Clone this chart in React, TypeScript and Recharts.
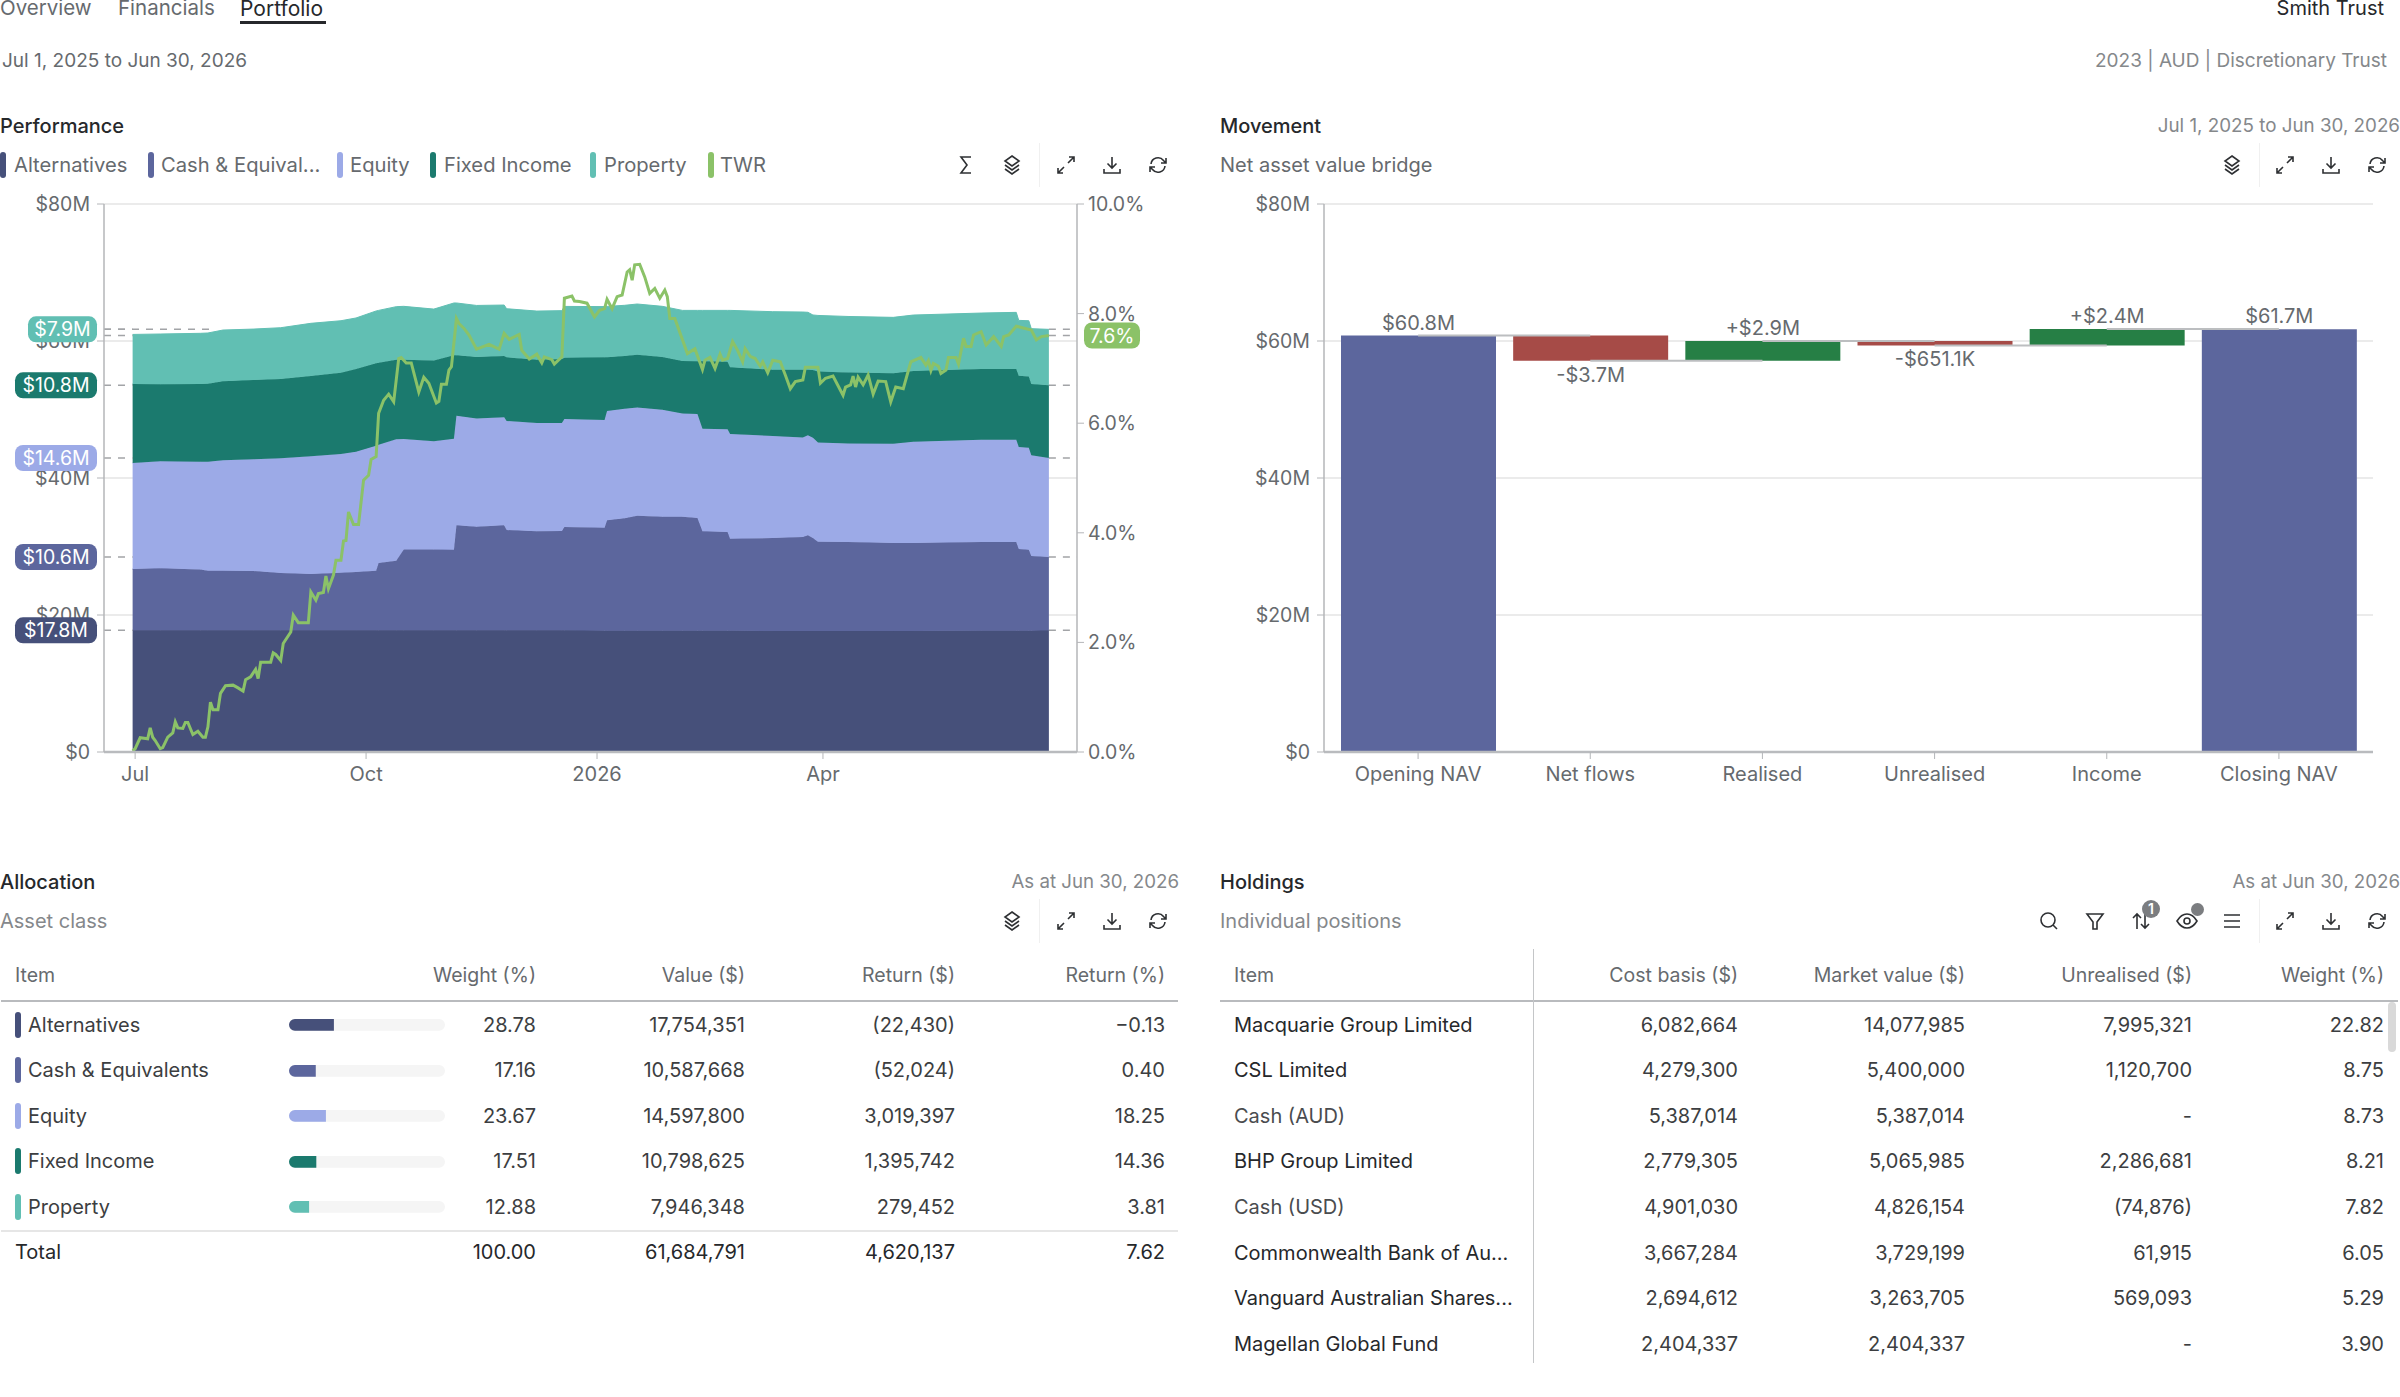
import React from "react";
import {
  Area,
  Bar,
  BarChart,
  CartesianGrid,
  Cell,
  ComposedChart,
  LabelList,
  Line,
  ReferenceLine,
  XAxis,
  YAxis,
} from "recharts";

const FONT = "Inter, 'Noto Sans', sans-serif";
const GREY = "#666a6e";
const DARK = "#26282b";
const AXIS = "#b4b6b9";
const GRID = "#ebebeb";

// performance chart, day 0 = Jul 1 2025, values in $M
const navDays = [-1, 10, 26, 29, 35, 47, 58, 70, 82, 88, 96, 97, 104, 107, 119, 127, 128, 136, 147, 148, 160, 170, 171, 187, 188, 195, 200, 210, 218, 224, 226, 236, 237, 254, 266, 268, 270, 272, 284, 302, 310, 337, 351, 352, 356, 357, 364];
const alternatives = [17.76, 17.76, 17.76, 17.76, 17.76, 17.76, 17.76, 17.76, 17.76, 17.76, 17.76, 17.76, 17.76, 17.76, 17.76, 17.76, 17.76, 17.76, 17.76, 17.76, 17.76, 17.76, 17.76, 17.71, 17.71, 17.71, 17.71, 17.71, 17.71, 17.71, 17.71, 17.71, 17.71, 17.66, 17.66, 17.66, 17.66, 17.66, 17.66, 17.66, 17.66, 17.71, 17.71, 17.71, 17.71, 17.71, 17.76];
const cash = [8.95, 9.05, 8.9, 8.71, 8.71, 8.66, 8.37, 8.22, 8.42, 8.52, 8.71, 9.83, 10.17, 11.82, 11.82, 11.78, 15.33, 15.13, 15.33, 14.65, 14.45, 14.5, 15.08, 15.04, 16.11, 16.4, 16.79, 16.64, 16.64, 16.45, 14.5, 14.4, 13.43, 13.58, 13.72, 13.97, 13.58, 13.04, 12.99, 12.85, 12.85, 12.94, 12.94, 11.92, 11.82, 10.9, 10.71];
const equity = [15.47, 15.62, 15.72, 15.91, 16.11, 16.3, 16.74, 17.18, 17.32, 17.57, 18.25, 17.27, 17.71, 16.11, 15.77, 16.2, 16.01, 15.81, 15.77, 15.91, 15.81, 15.77, 15.77, 15.72, 15.96, 16.01, 15.81, 15.62, 15.08, 15.18, 14.99, 14.99, 15.28, 14.89, 14.55, 14.6, 14.65, 14.5, 14.4, 14.5, 14.79, 14.94, 14.94, 14.89, 14.89, 14.7, 14.45];
const fixedIncome = [11.53, 11.24, 11.34, 11.39, 11.53, 11.58, 11.58, 11.73, 11.87, 12.07, 12.02, 11.97, 11.63, 11.58, 11.82, 12.17, 8.81, 8.95, 8.95, 9.29, 9.25, 9.34, 8.95, 9.15, 7.83, 7.69, 7.69, 7.69, 7.64, 7.69, 9.83, 9.88, 9.73, 9.68, 9.88, 9.59, 9.88, 10.36, 10.36, 10.27, 10.32, 10.32, 10.32, 10.41, 10.41, 10.41, 10.61];
const property = [7.25, 7.35, 7.4, 7.4, 7.49, 7.44, 7.49, 7.69, 7.59, 7.44, 7.64, 7.64, 7.74, 7.79, 7.49, 7.64, 7.64, 7.54, 7.44, 7.1, 7.1, 7.06, 7.49, 7.4, 7.44, 7.4, 7.4, 7.4, 7.4, 7.44, 7.44, 7.49, 8.32, 8.47, 8.42, 8.37, 8.03, 8.17, 8.17, 8.17, 8.17, 8.17, 8.27, 8.08, 8.13, 8.08, 8.17];

const twrDays = [-1, 0, 2, 5, 6, 7, 8, 10, 11, 13, 15, 16, 17, 19, 20, 21, 23, 25, 27, 28, 29, 30, 31, 33, 34, 36, 39, 41, 43, 44, 46, 48, 49, 50, 54, 55, 56, 58, 59, 62, 63, 65, 69, 70, 72, 73, 75, 76, 77, 79, 80, 82, 83, 84, 85, 87, 89, 91, 93, 94, 96, 97, 99, 101, 103, 105, 106, 108, 110, 113, 115, 117, 120, 121, 122, 124, 125, 126, 128, 129, 131, 133, 136, 141, 145, 147, 149, 153, 154, 157, 160, 162, 163, 166, 167, 170, 171, 174, 175, 177, 180, 183, 185, 187, 188, 190, 192, 194, 196, 197, 198, 199, 201, 203, 205, 207, 209, 211, 212, 213, 215, 220, 223, 226, 227, 229, 231, 233, 234, 236, 238, 240, 242, 243, 245, 247, 249, 250, 252, 254, 257, 259, 261, 263, 266, 267, 272, 273, 275, 278, 282, 283, 285, 286, 287, 288, 290, 292, 294, 296, 299, 301, 303, 306, 309, 313, 315, 316, 317, 318, 320, 321, 323, 324, 327, 328, 330, 331, 333, 334, 337, 339, 342, 345, 346, 348, 351, 357, 359, 361, 364];
const twrValues = [0.02, 0.06, 0.26, 0.24, 0.44, 0.27, 0.21, 0.06, 0.08, 0.27, 0.35, 0.55, 0.44, 0.43, 0.54, 0.54, 0.32, 0.38, 0.27, 0.27, 0.46, 0.91, 0.77, 0.77, 1.07, 1.21, 1.22, 1.17, 1.11, 1.32, 1.37, 1.51, 1.34, 1.64, 1.64, 1.81, 1.78, 1.67, 1.98, 2.19, 2.5, 2.36, 2.36, 2.92, 2.77, 2.89, 2.91, 3.21, 2.98, 3.23, 3.5, 3.5, 3.85, 3.86, 4.38, 4.15, 4.15, 4.96, 5.05, 5.34, 5.39, 6.18, 6.42, 6.53, 6.39, 7.18, 7.2, 7.1, 7.1, 6.57, 6.84, 6.73, 6.37, 6.4, 6.71, 6.71, 6.97, 7.03, 7.91, 7.82, 7.73, 7.61, 7.35, 7.44, 7.35, 7.64, 7.53, 7.62, 7.33, 7.17, 7.26, 7.1, 7.21, 7.16, 7.08, 7.21, 8.28, 8.32, 8.23, 8.22, 8.19, 7.94, 8.06, 8.09, 8.26, 8.09, 8.31, 8.34, 8.76, 8.8, 8.61, 8.89, 8.9, 8.67, 8.37, 8.46, 8.28, 8.43, 8.31, 7.91, 7.91, 7.27, 7.36, 6.98, 7.15, 7.2, 7.0, 7.26, 7.15, 7.18, 7.49, 7.33, 7.12, 7.36, 7.22, 7.18, 7.04, 7.12, 6.92, 7.15, 7.12, 6.88, 6.63, 6.76, 6.79, 7.02, 7.02, 6.73, 6.82, 6.86, 6.51, 6.66, 6.7, 6.86, 6.66, 6.84, 6.7, 6.88, 6.53, 6.77, 6.76, 6.39, 6.66, 6.63, 7.12, 7.2, 7.06, 7.14, 6.96, 7.09, 7.04, 6.91, 6.97, 7.2, 7.2, 7.08, 7.55, 7.4, 7.4, 7.61, 7.67, 7.43, 7.58, 7.4, 7.58, 7.61, 7.77, 7.7, 7.52, 7.58, 7.6];

const navTicks = [0, 20, 40, 60, 80];
const twrTicks = [0, 2, 4, 6, 8, 10];
const monthDays = [0, 92, 184, 274];
const monthLabels = ["Jul", "Oct", "2026", "Apr"];

const seriesNames = ["Alternatives", "Cash & Equival...", "Equity", "Fixed Income", "Property", "TWR"];
const seriesKeys = ["alternatives", "cash", "equity", "fixedIncome", "property"];
const seriesColors = ["#46507a", "#5c669d", "#9caae7", "#1b7a6e", "#61bfb3", "#8bc268"];
const endLabels = ["$17.8M", "$10.6M", "$14.6M", "$10.8M", "$7.9M"];
const twrEndLabel = "7.6%";

// bridge chart, $M
const bridgeNames = ["Opening NAV", "Net flows", "Realised", "Unrealised", "Income", "Closing NAV"];
const bridgeLow = [0, 57.1, 57.1, 59.35, 59.35, 0];
const bridgeHigh = [60.8, 60.8, 60.0, 60.0, 61.75, 61.7];
const bridgeText = ["$60.8M", "-$3.7M", "+$2.9M", "-$651.1K", "+$2.4M", "$61.7M"];
const bridgeColors = ["#5c669d", "#a64b47", "#267f45", "#a64b47", "#267f45", "#5c669d"];
const bridgeLinks = [60.8, 57.1, 60.0, 59.35, 61.75];

// allocation table
const allocNames = ["Alternatives", "Cash & Equivalents", "Equity", "Fixed Income", "Property"];
const allocWeight = [28.78, 17.16, 23.67, 17.51, 12.88];
const allocWeightText = ["28.78", "17.16", "23.67", "17.51", "12.88"];
const allocValue = ["17,754,351", "10,587,668", "14,597,800", "10,798,625", "7,946,348"];
const allocReturn = ["(22,430)", "(52,024)", "3,019,397", "1,395,742", "279,452"];
const allocReturnPct = ["\u22120.13", "0.40", "18.25", "14.36", "3.81"];
const allocTotal = ["100.00", "61,684,791", "4,620,137", "7.62"];

// holdings table
const holdNames = ["Macquarie Group Limited", "CSL Limited", "Cash (AUD)", "BHP Group Limited", "Cash (USD)", "Commonwealth Bank of Au...", "Vanguard Australian Shares...", "Magellan Global Fund"];
const holdCost = ["6,082,664", "4,279,300", "5,387,014", "2,779,305", "4,901,030", "3,667,284", "2,694,612", "2,404,337"];
const holdMarket = ["14,077,985", "5,400,000", "5,387,014", "5,065,985", "4,826,154", "3,729,199", "3,263,705", "2,404,337"];
const holdUnreal = ["7,995,321", "1,120,700", "-", "2,286,681", "(74,876)", "61,915", "569,093", "-"];
const holdWeight = ["22.82", "8.75", "8.73", "8.21", "7.82", "6.05", "5.29", "3.90"];

const navRows = navDays.map((day, i) => ({
  day,
  alternatives: alternatives[i],
  cash: cash[i],
  equity: equity[i],
  fixedIncome: fixedIncome[i],
  property: property[i],
}));
const twrRows = twrDays.map((day, i) => ({ day, twr: twrValues[i] }));
const bridgeRows = bridgeNames.map((name, i) => ({ name, range: [bridgeLow[i], bridgeHigh[i]] }));

const last = (a: number[]) => a[a.length - 1];
const endLevels = [alternatives, cash, equity, fixedIncome, property].reduce<number[]>(
  (acc, s) => [...acc, (acc.length ? acc[acc.length - 1] : 0) + last(s)],
  []
);

const DAY_MIN = -12.4;
const DAY_MAX = 375.2;
const ROW_Y = 1024.5;
const ROW_H = 45.6;
const HEAD_Y = 975.5;
const TOTAL_Y = 1252;
const TOOL_Y = 921;
const tick = { fontSize: 19.5, fill: GREY, fontFamily: FONT };
const catTick = { fontSize: 20, fill: GREY, fontFamily: FONT };
const axisLine = { stroke: AXIS, strokeWidth: 1.5 };
const baseLine = { stroke: "#b9bbbe", strokeWidth: 2.5 };

function T({ x, r, y, c = GREY, w = 400, s = 20, children }: any) {
  const style: React.CSSProperties = {
    position: "absolute",
    top: y,
    transform: "translateY(-50%)",
    color: c,
    fontWeight: w,
    fontSize: s,
    whiteSpace: "nowrap",
    lineHeight: 1,
  };
  if (r !== undefined) style.right = 2400 - r;
  else style.left = x;
  return <div style={style}>{children}</div>;
}

function Swatch({ x, y, color }: { x: number; y: number; color: string }) {
  return (
    <div style={{ position: "absolute", left: x, top: y - 13, width: 6, height: 26, borderRadius: 3, background: color }} />
  );
}

const iconPaths: Record<string, string> = {
  sigma: "M17 4H7l6 8-6 8h10",
  layers: "M12 3l7 5-7 5-7-5zM5 12l7 5 7-5M5 16l7 5 7-5",
  expand: "M14 10l6-6M15 4h5v5M10 14l-6 6M9 20H4v-5",
  download: "M12 4v11M7.5 10.5L12 15l4.5-4.5M4 16v4h16v-4",
  refresh: "M5 11a7 7 0 0 1 12.5-3.5L20 10M20 5v5h-5M19 13a7 7 0 0 1-12.5 3.5L4 14M4 19v-5h5",
  search: "M11 4a7 7 0 1 0 0 14 7 7 0 0 0 0-14zM16 16l4 4",
  filter: "M4 5h16l-6 8v7h-4v-7z",
  sort: "M8 20V5M4 9l4-4 4 4M16 4v15M12 15l4 4 4-4",
  eye: "M2 12c3-5 6.5-7 10-7s7 2 10 7c-3 5-6.5 7-10 7s-7-2-10-7zM12 9a3 3 0 1 0 0 6 3 3 0 0 0 0-6z",
  menu: "M4 6h16M4 12h16M4 18h16",
};

function Icon({ name, x, y }: { name: string; x: number; y: number }) {
  return (
    <svg
      viewBox="0 0 24 24"
      width={24}
      height={24}
      style={{ position: "absolute", left: x - 12, top: y - 12 }}
      fill="none"
      stroke="#2e3033"
      strokeWidth={1.6}
    >
      <path d={iconPaths[name]} />
    </svg>
  );
}

function Divider({ x, y }: { x: number; y: number }) {
  return <div style={{ position: "absolute", left: x, top: y - 22, width: 1, height: 44, background: "#f0f0f0" }} />;
}

// tag drawn at the axis end of a reference line
const endPill = (text: string, color: string, side: "left" | "right") => (props: any) => {
  const vb = props.viewBox;
  const w = text.length * 13 + 4;
  const px = side === "left" ? vb.x - 7 - w : vb.x + vb.width + 7;
  const py = vb.y;
  return (
    <g>
      <rect x={px} y={py - 13} width={w} height={26} rx={8} fill={color} />
      <text x={px + w / 2} y={py + 7} textAnchor="middle" fontSize={19.5} fill="#fff" fontFamily={FONT}>
        {text}
      </text>
    </g>
  );
};

const dash = { stroke: "#a2a4a7", strokeWidth: 1.5, strokeDasharray: "7 7" };

function PerformanceChart() {
  return (
    <div style={{ position: "absolute", left: 0, top: 180 }}>
      <ComposedChart width={1200} height={620} data={navRows} margin={{ top: 24, right: 0, bottom: 0, left: 0 }}>
        <CartesianGrid vertical={false} stroke={GRID} strokeWidth={2} />
        <ReferenceLine segment={[{ x: DAY_MIN, y: endLevels[4] }, { x: 32, y: endLevels[4] }]} {...dash} />
        {seriesKeys.map((key, i) => (
          <Area
            key={key}
            dataKey={key}
            stackId="nav"
            type="linear"
            fill={seriesColors[i]}
            fillOpacity={1}
            stroke={seriesColors[i]}
            strokeWidth={1}
            dot={false}
            isAnimationActive={false}
          />
        ))}
        <XAxis
          type="number"
          dataKey="day"
          domain={[DAY_MIN, DAY_MAX]}
          ticks={monthDays}
          tickFormatter={(d: number) => monthLabels[monthDays.indexOf(d)]}
          allowDataOverflow
          height={48}
          tick={catTick}
          tickSize={7}
          tickMargin={8}
          axisLine={baseLine}
          tickLine={{ stroke: AXIS }}
        />
        <YAxis
          domain={[0, 80]}
          ticks={navTicks}
          tickFormatter={(v: number) => `$${v}${v ? "M" : ""}`}
          width={104}
          tick={tick}
          tickSize={7}
          tickMargin={7}
          axisLine={axisLine}
          tickLine={{ stroke: AXIS }}
        />
        <YAxis
          yAxisId="twr"
          orientation="right"
          domain={[0, 10]}
          ticks={twrTicks}
          tickFormatter={(v: number) => `${v.toFixed(1)}%`}
          width={123}
          tick={tick}
          tickSize={7}
          tickMargin={4}
          axisLine={axisLine}
          tickLine={{ stroke: AXIS }}
        />
        {endLevels.map((level, i) => (
          <ReferenceLine key={`l${i}`} segment={[{ x: DAY_MIN, y: level }, { x: -1, y: level }]} {...dash} />
        ))}
        {endLevels.map((level, i) => (
          <ReferenceLine key={`r${i}`} segment={[{ x: 364, y: level }, { x: DAY_MAX, y: level }]} {...dash} />
        ))}
        <ReferenceLine yAxisId="twr" segment={[{ x: DAY_MIN, y: last(twrValues) }, { x: -1, y: last(twrValues) }]} {...dash} />
        <ReferenceLine yAxisId="twr" segment={[{ x: 364, y: last(twrValues) }, { x: DAY_MAX, y: last(twrValues) }]} {...dash} />
        <Line
          yAxisId="twr"
          data={twrRows}
          dataKey="twr"
          type="linear"
          stroke={seriesColors[5]}
          strokeWidth={3}
          dot={false}
          isAnimationActive={false}
        />
      </ComposedChart>
    </div>
  );
}

// second chart on the same scales, only so the tags sit above the axis labels
function EndTags() {
  return (
    <div style={{ position: "absolute", left: 0, top: 180 }}>
      <ComposedChart width={1200} height={620} data={navRows} margin={{ top: 24, right: 123, bottom: 48, left: 104 }}>
        <XAxis type="number" dataKey="day" domain={[DAY_MIN, DAY_MAX]} allowDataOverflow hide />
        <YAxis domain={[0, 80]} allowDataOverflow hide />
        <YAxis yAxisId="twr" orientation="right" domain={[0, 10]} allowDataOverflow hide />
        {endLevels.map((level, i) => (
          <ReferenceLine
            key={i}
            segment={[{ x: DAY_MIN, y: level }, { x: -1, y: level }]}
            stroke="none"
            label={endPill(endLabels[i], seriesColors[i], "left")}
          />
        ))}
        <ReferenceLine
          yAxisId="twr"
          segment={[{ x: 364, y: last(twrValues) }, { x: DAY_MAX, y: last(twrValues) }]}
          stroke="none"
          label={endPill(twrEndLabel, seriesColors[5], "right")}
        />
      </ComposedChart>
    </div>
  );
}

const bridgeLabel = (props: any) => {
  const { x, y, width, height, index } = props;
  const top = Math.min(y, y + height);
  const bottom = Math.max(y, y + height);
  const falling = bridgeText[index].startsWith("-");
  return (
    <text
      x={x + width / 2}
      y={falling ? bottom + 21 : top - 6}
      textAnchor="middle"
      fontSize={20}
      fill={GREY}
      fontFamily={FONT}
    >
      {bridgeText[index]}
    </text>
  );
};

function MovementChart() {
  return (
    <div style={{ position: "absolute", left: 1200, top: 180 }}>
      <BarChart width={1200} height={620} data={bridgeRows} margin={{ top: 24, right: 27, bottom: 0, left: 0 }} barSize={155}>
        <CartesianGrid vertical={false} stroke={GRID} strokeWidth={2} />
        <XAxis
          dataKey="name"
          padding={{ left: 8, right: 8 }}
          interval={0}
          height={48}
          tick={catTick}
          tickSize={7}
          tickMargin={8}
          axisLine={baseLine}
          tickLine={{ stroke: AXIS }}
        />
        <YAxis
          domain={[0, 80]}
          ticks={navTicks}
          tickFormatter={(v: number) => `$${v}${v ? "M" : ""}`}
          width={124}
          tick={tick}
          tickSize={7}
          tickMargin={7}
          axisLine={axisLine}
          tickLine={{ stroke: AXIS }}
        />
        {bridgeLinks.map((level, i) => (
          <ReferenceLine
            key={i}
            segment={[{ x: bridgeNames[i], y: level }, { x: bridgeNames[i + 1], y: level }]}
            stroke="#bcbec0"
            strokeWidth={2}
          />
        ))}
        <Bar dataKey="range" isAnimationActive={false}>
          {bridgeColors.map((color, i) => (
            <Cell key={i} fill={color} />
          ))}
          <LabelList dataKey="range" content={bridgeLabel} />
        </Bar>
      </BarChart>
    </div>
  );
}

function WeightBar({ weight, color }: { weight: number; color: string }) {
  return (
    <BarChart width={156} height={13} layout="vertical" data={[{ weight }]} margin={{ top: 0, right: 0, bottom: 0, left: 0 }}>
      <XAxis type="number" domain={[0, 100]} hide />
      <YAxis type="category" hide />
      <Bar
        dataKey="weight"
        fill={color}
        barSize={13}
        radius={[6, 0, 0, 6]}
        background={{ fill: "#f5f5f5", radius: 6 }}
        isAnimationActive={false}
      />
    </BarChart>
  );
}

function AllocationTable() {
  return (
    <>
      <T x={15} y={HEAD_Y} s={19.5}>Item</T>
      <T r={536} y={HEAD_Y} s={19.5}>Weight (%)</T>
      <T r={745} y={HEAD_Y} s={19.5}>Value ($)</T>
      <T r={955} y={HEAD_Y} s={19.5}>Return ($)</T>
      <T r={1165} y={HEAD_Y} s={19.5}>Return (%)</T>
      <div style={{ position: "absolute", left: 1, top: 999.5, width: 1177, height: 2, background: "#b9bbbe" }} />
      {allocNames.map((name, i) => {
        const y = ROW_Y + ROW_H * i;
        return (
          <React.Fragment key={name}>
            <Swatch x={15} y={y} color={seriesColors[i]} />
            <T x={28} y={y} c="#3c3e41">{name}</T>
            <div style={{ position: "absolute", left: 289, top: y - 6.5 }}>
              <WeightBar weight={allocWeight[i]} color={seriesColors[i]} />
            </div>
            <T r={536} y={y} c="#3c3e41">{allocWeightText[i]}</T>
            <T r={745} y={y} c="#3c3e41">{allocValue[i]}</T>
            <T r={955} y={y} c="#3c3e41">{allocReturn[i]}</T>
            <T r={1165} y={y} c="#3c3e41">{allocReturnPct[i]}</T>
          </React.Fragment>
        );
      })}
      <div style={{ position: "absolute", left: 1, top: 1229.5, width: 1177, height: 2, background: "#e6e6e6" }} />
      <T x={15} y={TOTAL_Y} c={DARK}>Total</T>
      <T r={536} y={TOTAL_Y} c={DARK}>{allocTotal[0]}</T>
      <T r={745} y={TOTAL_Y} c={DARK}>{allocTotal[1]}</T>
      <T r={955} y={TOTAL_Y} c={DARK}>{allocTotal[2]}</T>
      <T r={1165} y={TOTAL_Y} c={DARK}>{allocTotal[3]}</T>
    </>
  );
}

function HoldingsTable() {
  return (
    <>
      <T x={1234} y={HEAD_Y} s={19.5}>Item</T>
      <T r={1738} y={HEAD_Y} s={19.5}>Cost basis ($)</T>
      <T r={1965} y={HEAD_Y} s={19.5}>Market value ($)</T>
      <T r={2192} y={HEAD_Y} s={19.5}>Unrealised ($)</T>
      <T r={2384} y={HEAD_Y} s={19.5}>Weight (%)</T>
      <div style={{ position: "absolute", left: 1220, top: 999.5, width: 1178, height: 2, background: "#b9bbbe" }} />
      <div style={{ position: "absolute", left: 1533, top: 949, width: 1, height: 414, background: "#c4c6c8" }} />
      <div style={{ position: "absolute", left: 2388, top: 1002, width: 8, height: 50, borderRadius: 4, background: "#d9d9d9" }} />
      {holdNames.map((name, i) => {
        const y = ROW_Y + ROW_H * i;
        return (
          <React.Fragment key={name}>
            <T x={1234} y={y} c={name.startsWith("Cash") ? "#4a4c4f" : DARK}>{name}</T>
            <T r={1738} y={y} c="#3c3e41">{holdCost[i]}</T>
            <T r={1965} y={y} c="#3c3e41">{holdMarket[i]}</T>
            <T r={2192} y={y} c="#3c3e41">{holdUnreal[i]}</T>
            <T r={2384} y={y} c="#3c3e41">{holdWeight[i]}</T>
          </React.Fragment>
        );
      })}
    </>
  );
}

const legendSwatchX = [0, 148, 337, 430, 590, 708];
const legendTextX = [14, 161, 350, 444, 604, 720];

export default function App() {
  return (
    <div
      style={{
        position: "absolute",
        left: 0,
        top: 0,
        width: 2400,
        height: 1397,
        overflow: "hidden",
        background: "#fff",
        fontFamily: FONT,
      }}
    >
      {/* page header */}
      <T x={0} y={8} s={20.5}>Overview</T>
      <T x={118} y={8} s={20.5}>Financials</T>
      <T x={240} y={8} s={21} c={DARK}>Portfolio</T>
      <div style={{ position: "absolute", left: 240, top: 21, width: 86, height: 3, background: DARK }} />
      <T r={2384} y={8} c={DARK}>Smith Trust</T>
      <T x={2} y={60} s={19}>Jul 1, 2025 to Jun 30, 2026</T>
      <T r={2387} y={60} s={19} c="#85888b">2023 | AUD | Discretionary Trust</T>

      {/* performance */}
      <T x={0} y={126} c={DARK} w={500}>Performance</T>
      {seriesNames.map((name, i) => (
        <React.Fragment key={name}>
          <Swatch x={legendSwatchX[i]} y={165} color={seriesColors[i]} />
          <T x={legendTextX[i]} y={165} s={20.2}>{name}</T>
        </React.Fragment>
      ))}
      <Icon name="sigma" x={966} y={165} />
      <Icon name="layers" x={1012} y={165} />
      <Divider x={1039} y={165} />
      <Icon name="expand" x={1066} y={165} />
      <Icon name="download" x={1112} y={165} />
      <Icon name="refresh" x={1158} y={165} />
      <PerformanceChart />
      <EndTags />

      {/* movement */}
      <T x={1220} y={126} c={DARK} w={500}>Movement</T>
      <T r={2400} y={126} s={18.8} c="#85888b">Jul 1, 2025 to Jun 30, 2026</T>
      <T x={1220} y={165}>Net asset value bridge</T>
      <Icon name="layers" x={2232} y={165} />
      <Divider x={2259} y={165} />
      <Icon name="expand" x={2285} y={165} />
      <Icon name="download" x={2331} y={165} />
      <Icon name="refresh" x={2377} y={165} />
      <MovementChart />

      {/* allocation */}
      <T x={0} y={882} c={DARK} w={500}>Allocation</T>
      <T r={1179} y={882} s={18.7} c="#85888b">As at Jun 30, 2026</T>
      <T x={0} y={TOOL_Y} c="#85888b">Asset class</T>
      <Icon name="layers" x={1012} y={TOOL_Y} />
      <Divider x={1039} y={TOOL_Y} />
      <Icon name="expand" x={1066} y={TOOL_Y} />
      <Icon name="download" x={1112} y={TOOL_Y} />
      <Icon name="refresh" x={1158} y={TOOL_Y} />
      <AllocationTable />

      {/* holdings */}
      <T x={1220} y={882} c={DARK} w={500}>Holdings</T>
      <T r={2400} y={882} s={18.7} c="#85888b">As at Jun 30, 2026</T>
      <T x={1220} y={TOOL_Y} c="#85888b">Individual positions</T>
      <Icon name="search" x={2049} y={TOOL_Y} />
      <Icon name="filter" x={2095} y={TOOL_Y} />
      <Icon name="sort" x={2141} y={TOOL_Y} />
      <Icon name="eye" x={2187} y={TOOL_Y} />
      <Icon name="menu" x={2232} y={TOOL_Y} />
      <div style={{ position: "absolute", left: 2142, top: 900, width: 18, height: 18, borderRadius: 9, background: "#7b7d80", color: "#fff", fontSize: 14, fontWeight: 600, textAlign: "center", lineHeight: "18px" }}>1</div>
      <div style={{ position: "absolute", left: 2191, top: 903, width: 13, height: 13, borderRadius: 7, background: "#7b7d80" }} />
      <Divider x={2259} y={TOOL_Y} />
      <Icon name="expand" x={2285} y={TOOL_Y} />
      <Icon name="download" x={2331} y={TOOL_Y} />
      <Icon name="refresh" x={2377} y={TOOL_Y} />
      <HoldingsTable />
    </div>
  );
}
